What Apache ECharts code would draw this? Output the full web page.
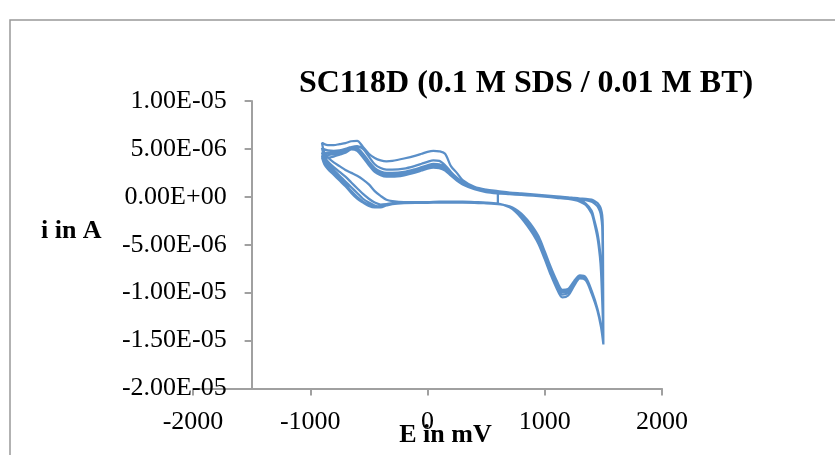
<!DOCTYPE html>
<html>
<head>
<meta charset="utf-8">
<script src="https://cdn.jsdelivr.net/npm/echarts@6/dist/echarts.min.js"></script>
<style>
  html, body { margin: 0; padding: 0; background: #ffffff; }
  #chart { width: 835px; height: 455px; }
</style>
</head>
<body>
<div id="chart"></div>
<script>
// Cyclic voltammogram, SC118D in 0.1 M SDS / 0.01 M BT.
// Potentials in mV, currents in microamps (converted to A for plotting).

const titleText = 'SC118D (0.1 M SDS / 0.01 M BT)';
const xName = 'E in mV';
const yName = 'i in A';
const xTicks = [-2000, -1000, 0, 1000, 2000];
const yTicks = [-2e-5, -1.5e-5, -1e-5, -5e-6, 0, 5e-6, 1e-5];
const yAxisCrossAt = -1500; // mV where the vertical axis crosses

// first positive-going sweep, starting at 600 mV
const startE = [600, 600, 650, 700, 750, 800, 850, 900, 950, 1000, 1050, 1100, 1150, 1200, 1250, 1300, 1350, 1400, 1450, 1480, 1500];
const startI = [0.3, -0.65, -0.85, -1.1, -1.5, -2.15, -2.9, -3.8, -5.0, -6.5, -8.1, -9.5, -10.5, -10.3, -9.3, -8.5, -8.7, -10.1, -11.9, -13.6, -15.4];

// positive-going sweeps from -900 mV
const fwdE = [-900, -880, -850, -800, -750, -700, -650, -600, -550, -500, -450, -400, -350, -300, -200, -100, 0, 100, 200, 300, 400, 500, 600, 650, 700, 750, 800, 850, 900, 950, 1000, 1050, 1100, 1150, 1200, 1250, 1300, 1350, 1400, 1450, 1480, 1500];
const fwd2 = [5.65, 4.6, 4.1, 3.6, 3.2, 2.8, 2.5, 2.2, 1.8, 1.3, 0.6, 0.1, -0.3, -0.45, -0.55, -0.55, -0.55, -0.5, -0.5, -0.5, -0.55, -0.6, -0.7, -0.85, -1.1, -1.55, -2.2, -3.0, -3.9, -5.0, -6.5, -8.0, -9.4, -10.2, -10.0, -9.1, -8.4, -8.6, -10.0, -11.9, -13.6, -15.3];
const fwd3 = [5.1, 4.2, 3.7, 3.1, 2.6, 2.1, 1.5, 0.9, 0.3, -0.2, -0.6, -0.8, -0.75, -0.65, -0.6, -0.55, -0.55, -0.5, -0.5, -0.5, -0.55, -0.6, -0.7, -0.85, -1.05, -1.45, -2.0, -2.75, -3.6, -4.7, -6.2, -7.8, -9.1, -9.95, -9.8, -8.9, -8.3, -8.5, -9.9, -11.8, -13.5, -15.3];
const fwd4 = [4.6, 3.9, 3.4, 2.8, 2.2, 1.6, 1.0, 0.4, -0.2, -0.6, -0.9, -1.0, -0.85, -0.7, -0.6, -0.6, -0.6, -0.55, -0.55, -0.55, -0.6, -0.65, -0.75, -0.85, -1.0, -1.35, -1.85, -2.5, -3.3, -4.4, -5.9, -7.5, -8.9, -9.8, -9.7, -8.8, -8.2, -8.4, -9.8, -11.7, -13.5, -15.3];
const fwd5 = [4.3, 3.6, 3.1, 2.5, 1.9, 1.3, 0.6, 0.0, -0.5, -0.85, -1.05, -1.1, -0.9, -0.75, -0.65, -0.6, -0.6, -0.6, -0.6, -0.6, -0.62, -0.68, -0.75, -0.85, -1.0, -1.3, -1.75, -2.4, -3.2, -4.2, -5.7, -7.3, -8.7, -9.7, -9.6, -8.8, -8.2, -8.4, -9.8, -11.7, -13.4, -15.3];
// last sweep stops at 600 mV
const fwd6 = [4.1, 3.4, 2.9, 2.3, 1.7, 1.1, 0.4, -0.2, -0.6, -0.95, -1.1, -1.1, -0.9, -0.75, -0.65, -0.62, -0.62, -0.6, -0.6, -0.6, -0.62, -0.68, -0.75];

// negative-going sweeps from 1500 mV
const revE = [1500, 1498, 1495, 1490, 1480, 1470, 1450, 1420, 1400, 1350, 1300, 1250, 1200, 1100, 1000, 900, 800, 700, 600, 500, 400, 300, 250, 200, 150, 100, 50, 0, -50, -100, -200, -300, -350, -400, -450, -500, -550, -600, -650, -700, -750, -800, -850, -880, -900];
const rev1 = [-15.4, -9.0, -3.0, -1.9, -1.3, -1.0, -0.65, -0.4, -0.3, -0.22, -0.18, -0.12, -0.05, 0.05, 0.15, 0.25, 0.35, 0.45, 0.6, 0.75, 1.05, 1.75, 2.5, 3.2, 4.5, 4.75, 4.8, 4.7, 4.5, 4.3, 4.0, 3.75, 3.7, 3.8, 4.05, 4.5, 5.2, 5.85, 5.8, 5.6, 5.5, 5.4, 5.4, 5.5, 5.65];
const rev2 = [-15.3, -12.0, -7.0, -3.1, -2.0, -1.5, -1.0, -0.65, -0.5, -0.35, -0.28, -0.2, -0.12, -0.02, 0.08, 0.18, 0.28, 0.35, 0.45, 0.6, 0.95, 1.5, 2.0, 2.6, 3.3, 3.75, 3.8, 3.65, 3.45, 3.25, 2.95, 2.85, 2.85, 3.0, 3.4, 4.2, 5.0, 5.3, 5.2, 5.0, 4.85, 4.8, 4.85, 4.95, 5.1];
const rev3 = [-15.3, -14.0, -12.0, -10.0, -7.0, -5.5, -3.8, -2.3, -1.45, -0.7, -0.4, -0.25, -0.15, -0.05, 0.05, 0.15, 0.25, 0.32, 0.4, 0.55, 0.9, 1.45, 1.9, 2.5, 3.1, 3.4, 3.45, 3.3, 3.1, 2.9, 2.6, 2.5, 2.5, 2.65, 3.0, 3.7, 4.5, 5.1, 5.2, 5.0, 4.8, 4.65, 4.6, 4.6, 4.6];
const rev4 = [-15.3, -14.0, -12.3, -10.5, -7.5, -5.9, -4.1, -2.5, -1.6, -0.8, -0.45, -0.3, -0.2, -0.08, 0.03, 0.13, 0.22, 0.3, 0.38, 0.52, 0.85, 1.35, 1.8, 2.35, 2.9, 3.2, 3.25, 3.1, 2.9, 2.7, 2.4, 2.3, 2.3, 2.45, 2.8, 3.5, 4.3, 5.0, 5.1, 4.8, 4.6, 4.45, 4.35, 4.3, 4.3];
const rev5 = [-15.3, -14.2, -12.5, -10.8, -7.8, -6.2, -4.3, -2.6, -1.75, -0.85, -0.5, -0.32, -0.22, -0.1, 0.02, 0.12, 0.2, 0.28, 0.36, 0.5, 0.8, 1.3, 1.7, 2.2, 2.75, 3.0, 3.05, 2.95, 2.75, 2.55, 2.25, 2.1, 2.1, 2.25, 2.6, 3.3, 4.1, 4.8, 4.95, 4.6, 4.4, 4.2, 4.1, 4.1, 4.1];

// Assemble the continuous scan in recording order
function pairs(eArr, iArr) {
  return iArr.map((i, k) => [eArr[k], i * 1e-6]);
}
const scan = [].concat(
  pairs(startE, startI),
  pairs(revE, rev1),
  pairs(fwdE, fwd2), pairs(revE, rev2),
  pairs(fwdE, fwd3), pairs(revE, rev3),
  pairs(fwdE, fwd4), pairs(revE, rev4),
  pairs(fwdE, fwd5), pairs(revE, rev5),
  pairs(fwdE, fwd6)
);

// Excel-style scientific labels, e.g. 1.00E-05
function sci(v) {
  if (Math.abs(v) < 1e-12) return '0.00E+00';
  const parts = v.toExponential(2).split('e');
  const sign = parts[1][0] === '-' ? '-' : '+';
  let digits = parts[1].replace(/^[+-]/, '');
  if (digits.length < 2) digits = '0' + digits;
  return parts[0] + 'E' + sign + digits;
}

const W = 835, H = 455;
const grid = { left: 193, top: 101, width: 469, height: 287.5 };
const xMin = xTicks[0], xMax = xTicks[xTicks.length - 1];
const yMin = yTicks[0], yMax = yTicks[yTicks.length - 1];
const yAxisOffset = -(yAxisCrossAt - xMin) / (xMax - xMin) * grid.width;

const axisGray = '#a0a0a0';
const serif = '"Liberation Serif", "Times New Roman", serif';

const chart = echarts.init(document.getElementById('chart'), null, { renderer: 'canvas' });
chart.setOption({
  animation: false,
  backgroundColor: '#ffffff',
  grid: {
    left: grid.left, top: grid.top, width: grid.width, height: grid.height,
    containLabel: false, outerBoundsMode: 'none'
  },
  xAxis: {
    type: 'value',
    min: xMin, max: xMax, interval: xTicks[1] - xTicks[0],
    name: xName,
    nameLocation: 'middle',
    nameGap: 34,
    nameMoveOverlap: false,
    nameTextStyle: { fontFamily: serif, fontWeight: 'bold', fontSize: 26, color: '#000', padding: [0, 0, 0, 36] },
    axisLine: { onZero: false, lineStyle: { color: axisGray, width: 2 } },
    axisTick: { show: true, inside: false, length: 7, lineStyle: { color: axisGray, width: 2 } },
    axisLabel: { margin: 21, fontFamily: serif, fontSize: 26, color: '#000', formatter: (v) => String(v) },
    splitLine: { show: false }
  },
  yAxis: {
    type: 'value',
    min: yMin, max: yMax, interval: yTicks[1] - yTicks[0],
    position: 'left',
    offset: yAxisOffset,
    name: yName,
    nameLocation: 'middle',
    nameRotate: 0,
    nameGap: 150,
    nameMoveOverlap: false,
    nameTextStyle: { fontFamily: serif, fontWeight: 'bold', fontSize: 26, color: '#000', verticalAlign: 'bottom' },
    axisLine: { onZero: false, lineStyle: { color: axisGray, width: 2 } },
    axisTick: { show: true, inside: false, length: 7, lineStyle: { color: axisGray, width: 2 } },
    axisLabel: { margin: 25, fontFamily: serif, fontSize: 26, color: '#000', formatter: sci },
    splitLine: { show: false }
  },
  graphic: [
    {
      type: 'rect',
      shape: { x: 10, y: 20, width: W + 40, height: H + 40 },
      style: { fill: 'none', stroke: '#999999', lineWidth: 1.5 },
      silent: true
    },
    {
      type: 'text',
      style: {
        x: 526, y: 84, text: titleText,
        textAlign: 'center', textVerticalAlign: 'middle',
        font: 'bold 32px ' + serif, fill: '#000'
      },
      silent: true
    }
  ],
  series: [{
    type: 'line',
    data: scan,
    showSymbol: false,
    smooth: 0.3,
    lineStyle: { color: '#5A8FC8', width: 2.25 },
    itemStyle: { color: '#5A8FC8' }
  }]
});
</script>
</body>
</html>
